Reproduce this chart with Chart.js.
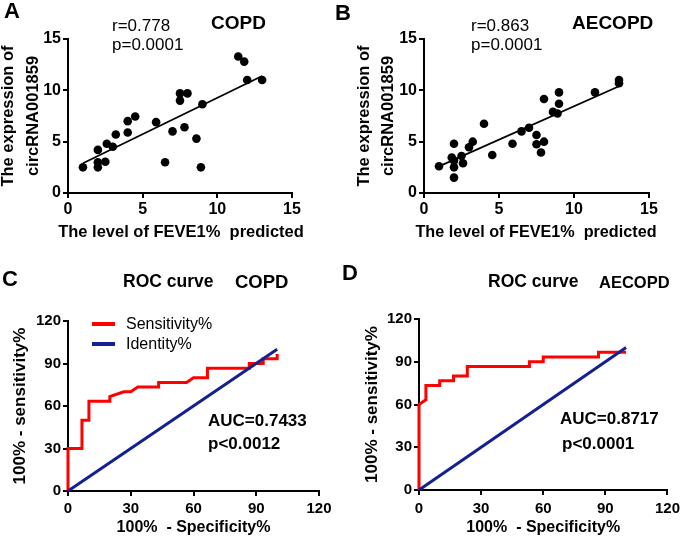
<!DOCTYPE html>
<html>
<head>
<meta charset="utf-8">
<script src="https://cdn.jsdelivr.net/npm/chart.js@4.4.1/dist/chart.umd.min.js"></script>
<style>
  body { margin: 0; background: #fff; }
  #page { position: relative; width: 685px; height: 540px; overflow: hidden; font-family: "Liberation Sans", Arial, sans-serif; color: #000; }
  #page canvas { position: absolute; }
  .txt { position: absolute; line-height: 1; transform: translateY(-50%); white-space: pre; }
  .mid { transform: translate(-50%, -50%); }
  .b { font-weight: bold; }
  .bar { position: absolute; width: 23px; height: 4px; }
</style>
</head>
<body>
<div id="page">
  <canvas id="chartA" width="340" height="260" style="left:0;top:0"></canvas>
  <canvas id="chartB" width="345" height="260" style="left:340px;top:0"></canvas>
  <canvas id="chartC" width="340" height="280" style="left:0;top:260px"></canvas>
  <canvas id="chartD" width="345" height="280" style="left:340px;top:260px"></canvas>

  <!-- panel letters -->
  <div class="txt b" style="left:4px;top:11px;font-size:22px">A</div>
  <div class="txt b" style="left:335px;top:13px;font-size:22px">B</div>
  <div class="txt b" style="left:2px;top:279px;font-size:22px">C</div>
  <div class="txt b" style="left:342px;top:273px;font-size:22px">D</div>

  <!-- scatter notes -->
  <div class="txt b" style="left:211px;top:22px;font-size:19px">COPD</div>
  <div class="txt" style="left:112px;top:25px;font-size:17px">r=0.778</div>
  <div class="txt" style="left:112px;top:44px;font-size:17px">p=0.0001</div>
  <div class="txt b" style="left:572px;top:22px;font-size:19px">AECOPD</div>
  <div class="txt" style="left:471px;top:25px;font-size:17px">r=0.863</div>
  <div class="txt" style="left:471px;top:44px;font-size:17px">p=0.0001</div>

  <!-- scatter x titles (wider than the plot, so not drawn by the axis) -->
  <div class="txt b mid" style="left:181px;top:231px;font-size:16.5px">The level of FEVE1%  predicted</div>
  <div class="txt b mid" style="left:536px;top:231px;font-size:16.2px">The level of FEVE1%  predicted</div>

  <!-- ROC titles -->
  <div class="txt b" style="left:123px;top:282px;font-size:17.5px">ROC curve</div>
  <div class="txt b" style="left:235px;top:282px;font-size:18.5px">COPD</div>
  <div class="txt b" style="left:488px;top:282px;font-size:17.5px">ROC curve</div>
  <div class="txt b" style="left:599px;top:282px;font-size:16.5px">AECOPD</div>

  <!-- legend C -->
  <div class="bar" style="left:92px;top:322px;background:#ff0000"></div>
  <div class="txt" style="left:126px;top:324px;font-size:16px">Sensitivity%</div>
  <div class="bar" style="left:92px;top:342px;background:#14208f"></div>
  <div class="txt" style="left:126px;top:344px;font-size:16px">Identity%</div>

  <!-- AUC notes -->
  <div class="txt b" style="left:208px;top:420px;font-size:17px">AUC=0.7433</div>
  <div class="txt b" style="left:208px;top:443px;font-size:17px">p&lt;0.0012</div>
  <div class="txt b" style="left:560px;top:418px;font-size:17px">AUC=0.8717</div>
  <div class="txt b" style="left:562px;top:443px;font-size:17px">p&lt;0.0001</div>
</div>

<script>
// tick values
const scatterTicks = [0, 5, 10, 15];
const rocTicks = [0, 30, 60, 90, 120];

// A: COPD scatter
const copdX = [1, 2, 2, 2, 2.5, 2.6, 3, 3.2, 4, 4, 4.5, 5.9, 6.5, 7, 7.5, 7.5, 7.8, 8, 8.6, 8.9, 9, 11.4, 11.8, 12, 13];
const copdY = [2.5, 2.5, 3.0, 4.2, 3.05, 4.8, 4.5, 5.7, 5.9, 7.0, 7.45, 6.9, 3.0, 6.0, 9.0, 9.7, 6.4, 9.7, 5.3, 2.5, 8.65, 13.3, 12.8, 11.0, 11.0];
const copdFitX = [1, 13];
const copdFitY = [2.9, 11.4];

// B: AECOPD scatter
const aecopdX = [1.0, 1.85, 2.0, 2.0, 2.0, 2.0, 2.5, 2.6, 3.0, 3.25, 4.0, 4.55, 5.9, 6.5, 7.0, 7.5, 7.5, 7.8, 8.0, 8.0, 8.6, 8.9, 9.0, 9.0, 11.4, 13.0, 13.0];
const aecopdY = [2.6, 3.45, 4.8, 3.15, 2.5, 1.5, 3.6, 2.9, 4.45, 5.0, 6.75, 3.7, 4.8, 6.0, 6.35, 5.65, 4.75, 3.95, 5.0, 9.15, 7.9, 7.75, 8.7, 9.8, 9.8, 11.0, 10.7];
const aecopdFitX = [1, 13];
const aecopdFitY = [2.6, 10.4];

// C: ROC COPD (100% - specificity, sensitivity)
const rocCSpec = [0, 0, 6.67, 6.67, 10, 10, 20, 20, 26.67, 30, 33.33, 43.33, 43.33, 56.67, 60, 66.67, 66.67, 86.67, 86.67, 93.33, 93.33, 100, 100];
const rocCSens = [0, 30, 30, 50, 50, 63.33, 63.33, 66.67, 70, 70, 73.33, 73.33, 76.67, 76.67, 80, 80, 86.67, 86.67, 90, 90, 93.33, 93.33, 96.67];

// D: ROC AECOPD
const rocDSpec = [0, 0, 3.33, 3.33, 10, 10, 16.67, 16.67, 23.33, 23.33, 53.33, 53.33, 60, 60, 86.67, 86.67, 100];
const rocDSens = [0, 60, 63.33, 73.33, 73.33, 76.67, 76.67, 80, 80, 86.67, 86.67, 90, 90, 93.33, 93.33, 96.67, 96.67];

// identity line
const identityX = [0, 100];
const identityY = [0, 100];

const FONT = "'Liberation Sans', Arial, sans-serif";
Chart.defaults.font.family = FONT;
Chart.defaults.color = '#000';

function toPoints(xs, ys) {
    return xs.map((x, i) => ({ x: x, y: ys[i] }));
}

// GraphPad style axes: black border, outward ticks, no grid
function axis(ticksList, max) {
    return {
        type: 'linear',
        min: 0,
        max: max,
        border: { display: true, color: '#000', width: 2 },
        grid: { drawOnChartArea: false, drawTicks: true, tickLength: 5, color: '#000', lineWidth: 2 },
        afterBuildTicks: s => { s.ticks = ticksList.map(v => ({ value: v })); }
    };
}

function buildScales(c) {
    const tickFont = { family: FONT, size: c.tickSize, weight: 'bold' };
    const x = axis(c.ticks, c.max);
    x.ticks = { color: '#000', font: tickFont, padding: c.xTickPad, maxRotation: 0, autoSkip: false };
    x.title = { display: !!c.xTitle, text: c.xTitle || '', color: '#000',
        font: { family: FONT, size: 16, weight: 'bold' }, padding: { top: 0, bottom: c.xTitlePad || 0 } };
    x.afterFit = s => { s.height = c.xHeight; };

    const y = axis(c.ticks, c.max);
    y.ticks = { color: '#000', font: tickFont, padding: 2, autoSkip: false };
    y.title = { display: true, text: c.yTitle, color: '#000',
        font: { family: FONT, size: c.yTitleSize, weight: 'bold', lineHeight: c.yLineHeight }, padding: { top: c.yTitlePad, bottom: 0 } };
    y.afterFit = s => { s.width = c.yWidth; };
    return { x: x, y: y };
}

const baseOpts = {
    responsive: false,
    animation: false,
    plugins: { legend: { display: false }, tooltip: { enabled: false } }
};

function scatterChart(id, xs, ys, fx, fy, pad, yWidth, yTitlePad, yLineHeight) {
    return new Chart(document.getElementById(id), {
        type: 'scatter',
        data: {
            datasets: [
                { data: toPoints(xs, ys), backgroundColor: '#000', borderWidth: 0, pointRadius: 4.3, clip: false },
                { data: toPoints(fx, fy), showLine: true, borderColor: '#000', borderWidth: 1.8, pointRadius: 0, clip: false }
            ]
        },
        options: Object.assign({}, baseOpts, {
            layout: { padding: pad },
            scales: buildScales({
                ticks: scatterTicks, max: 15, tickSize: 16,
                xTickPad: 2, xHeight: 67,
                yTitle: ['The expression of', 'circRNA001859'], yTitleSize: 16.5,
                yTitlePad: yTitlePad, yLineHeight: yLineHeight, yWidth: yWidth
            })
        })
    });
}

function rocChart(id, sx, sy, pad, yWidth, yTitlePad, xHeight, xTickPad) {
    return new Chart(document.getElementById(id), {
        type: 'scatter',
        data: {
            datasets: [
                { label: 'Identity%', data: toPoints(identityX, identityY), showLine: true, borderColor: '#14208f',
                  borderWidth: 3, pointRadius: 0, clip: false, order: 0 },
                { label: 'Sensitivity%', data: toPoints(sx, sy), showLine: true, borderColor: '#ff0000',
                  borderWidth: 3, pointRadius: 0, clip: false, order: 1 }
            ]
        },
        options: Object.assign({}, baseOpts, {
            layout: { padding: pad },
            scales: buildScales({
                ticks: rocTicks, max: 120, tickSize: 15,
                xTitle: '100%  - Specificity%', xTitlePad: 3, xTickPad: xTickPad, xHeight: xHeight,
                yTitle: '100% - sensitivity%', yTitleSize: 17, yTitlePad: yTitlePad, yLineHeight: '19px', yWidth: yWidth
            })
        })
    });
}

scatterChart('chartA', copdX, copdY, copdFitX, copdFitY, { left: 0, top: 39, right: 48, bottom: 0 }, 68, -4, '25px');
scatterChart('chartB', aecopdX, aecopdY, aecopdFitX, aecopdFitY, { left: 0, top: 39, right: 36, bottom: 0 }, 84, 12, '24px');
rocChart('chartC', rocCSpec, rocCSens, { left: 0, top: 61, right: 21, bottom: 0 }, 68, 11, 49, 4);
rocChart('chartD', rocDSpec, rocDSens, { left: 0, top: 59, right: 17, bottom: 0 }, 79, 23, 50, 5);
</script>
</body>
</html>
